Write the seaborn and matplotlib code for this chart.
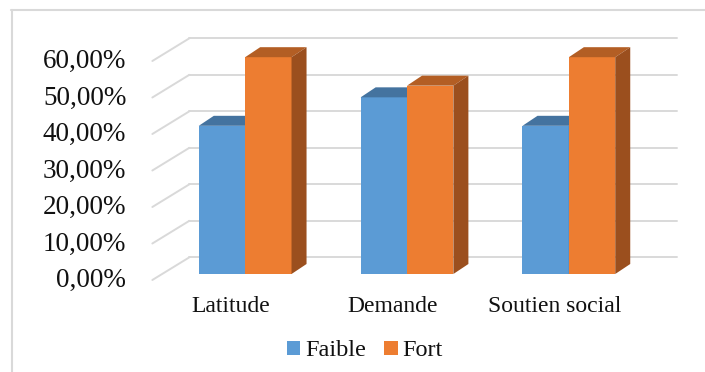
import numpy as np
import pandas as pd
import matplotlib
matplotlib.use("Agg")
import matplotlib.pyplot as plt
import seaborn as sns
from matplotlib.patches import Polygon
from matplotlib.transforms import ScaledTranslation
from matplotlib.lines import Line2D

categories = ["Latitude", "Demande", "Soutien social"]
groups = ["Faible", "Fort"]
faible = [40.6, 48.4, 40.6]
fort = [59.4, 51.6, 59.4]
yticks = [0, 10, 20, 30, 40, 50, 60]

df = pd.DataFrame({
    "cat": categories * 2,
    "grp": [groups[0]] * 3 + [groups[1]] * 3,
    "val": faible + fort,
})

colors = {"Faible": "#5B9BD5", "Fort": "#ED7D31"}
tops = {"Faible": "#44739F", "Fort": "#B35E24"}
sides = {"Faible": "#3F6B94", "Fort": "#9B4F1E"}

W, H = 705, 372
sns.set_theme(style="white")
serif = ["Liberation Serif", "DejaVu Serif"]
plt.rcParams["font.family"] = serif

fig = plt.figure(figsize=(W / 100, H / 100), dpi=100)
# axes placed in image pixels: x 140..690, y 30..290 (from top)
ax = fig.add_axes([140 / W, 1 - 290 / H, 550 / W, 260 / H])

sns.barplot(data=df, x="cat", y="val", hue="grp", palette=colors,
            width=0.573, saturation=1, ax=ax, legend=True, edgecolor="none")

px_x = 161.65  # pixels per category
px_y = 3.65    # pixels per percent
ax.set_xlim(-104.7 / px_x - 0.002, 444.3 / px_x)
ax.set_ylim(-16 / px_y, 244 / px_y)
ax.axis("off")

# 3d faces for each bar
ddx, ddy = 15 / px_x, 10 / px_y
for i, p in enumerate(ax.patches[:6]):
    g = groups[i // 3]
    z = 2 if g == "Faible" else 3
    p.set_zorder(z)
    x0, y0, w, h = p.get_x(), p.get_y(), p.get_width(), p.get_height()
    top = Polygon([(x0, y0 + h), (x0 + w, y0 + h), (x0 + w + ddx, y0 + h + ddy),
                   (x0 + ddx, y0 + h + ddy)], closed=True, fc=tops[g], ec="none", zorder=z + 0.1)
    side = Polygon([(x0 + w, y0), (x0 + w + ddx, y0 + ddy), (x0 + w + ddx, y0 + h + ddy),
                    (x0 + w, y0 + h)], closed=True, fc=sides[g], ec="none", zorder=z + 0.1)
    ax.add_patch(top)
    ax.add_patch(side)

# back wall gridlines and diagonal lines to the labels
def off(dx, dy):
    return ax.transData + ScaledTranslation(dx / 100, dy / 100, fig.dpi_scale_trans)

grid_c = "#D9D9D9"
x_front = (153 - 245.7) / px_x
x_back = (190 - 245.7) / px_x
x_end = (677 - 245.7) / px_x
for v in yticks:
    ax.plot([x_back, x_end], [v, v], color=grid_c, lw=1.4, transform=off(0, 16.7), zorder=1)
    ax.plot([x_front, x_back], [v - 6 / px_y, v + 16.7 / px_y], color=grid_c, lw=1.4, zorder=1)
    ax.text(x_front - 26 / px_x, v, f"{v},00%", ha="right", va="center", fontsize=19.5,
            color="#111111", transform=off(0, -6.5))

for i, c in enumerate(categories):
    ax.text(i, 0, c, ha="center", va="center", fontsize=17, color="#111111",
            transform=off(-14, -32))

sns.move_legend(ax, "center", bbox_to_anchor=(365 / W, 1 - 351 / H),
                bbox_transform=fig.transFigure, ncol=2, frameon=False, title=None,
                prop={"family": serif, "size": 17.5}, handlelength=0.55, handleheight=0.55,
                handletextpad=0.2, columnspacing=0.75)
for t in ax.get_legend().get_texts():
    t.set_color("#111111")
    t.set_fontfamily(serif)

# chart border (top and left visible)
fig.add_artist(Line2D([11 / W, 1], [1 - 9.5 / H, 1 - 9.5 / H], color="#D9D9D9", lw=1.5))
fig.add_artist(Line2D([11.5 / W, 11.5 / W], [0, 1 - 9.5 / H], color="#D9D9D9", lw=1.5))

fig.savefig("out.png", dpi=100)
